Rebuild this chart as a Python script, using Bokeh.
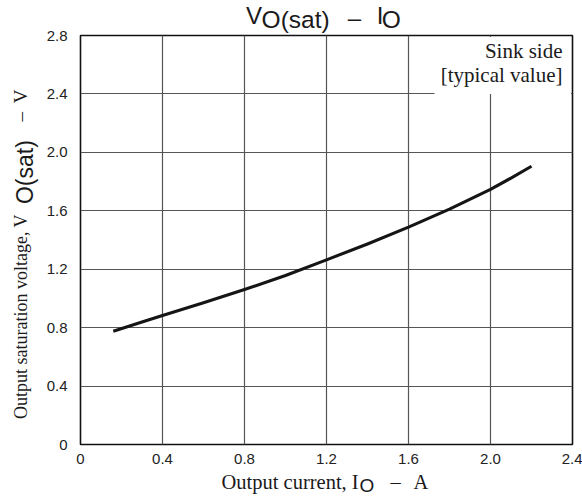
import math
from bokeh.plotting import figure
from bokeh.models import Label, Range1d, FixedTicker
from bokeh.layouts import column, row
from bokeh.embed import file_html
from bokeh.resources import INLINE

# ---- data ----
current = [0.16, 0.3, 0.4, 0.6, 0.8, 1.0, 1.2, 1.4, 1.6, 1.8, 2.0, 2.1, 2.2]
voltage = [0.775, 0.838, 0.883, 0.97, 1.061, 1.157, 1.264, 1.373, 1.488, 1.611, 1.746, 1.824, 1.905]

x_ticks = [0, 0.4, 0.8, 1.2, 1.6, 2.0, 2.4]
x_tick_labels = ["0", "0.4", "0.8", "1.2", "1.6", "2.0", "2.4"]
y_ticks = [0, 0.4, 0.8, 1.2, 1.6, 2.0, 2.4, 2.8]
y_tick_labels = ["0", "0.4", "0.8", "1.2", "1.6", "2.0", "2.4", "2.8"]

# ---- layout in page pixels ----
W, H = 582, 498
TOP_H = 34          # title strip height
XT_H = 28           # x-axis title strip height
YT_W = 40           # y-axis title strip width
YA_W = 34           # strip holding the y axis
MID_H = H - XT_H    # height of the upper block
MAIN_X = YT_W + YA_W
FL, FR, FT, FB = 80, 572, 35, 444      # frame of the chart (page px)
XMAX, YMAX = 2.4, 2.8
XS = (FR - FL) / XMAX
YS = (FB - FT) / YMAX

SANS = "Liberation Sans"
SERIF = "Liberation Serif"
INK = "#1a1a1a"


def hide_center(f):
    for r in list(f.center):
        r.visible = False


def text_strip(w, h):
    f = figure(width=w, height=h, output_backend="svg", toolbar_location=None,
               title=None, x_axis_location=None, y_axis_location=None,
               x_range=Range1d(0, w), y_range=Range1d(0, h),
               min_border_left=0, min_border_right=0,
               min_border_top=0, min_border_bottom=0)
    hide_center(f)
    f.outline_line_color = None
    f.background_fill_color = "white"
    f.border_fill_color = "white"
    return f


def put(fig, text, x, y, font, size, align="left", angle=0.0):
    fig.add_layout(Label(x=x, y=y, text=text, text_font=font,
                         text_font_size=size, text_align=align,
                         text_baseline="alphabetic", angle=angle,
                         text_color=INK))


def style_axis(ax):
    ax.axis_line_color = None
    ax.major_tick_line_color = None
    ax.minor_tick_line_color = None
    ax.major_label_text_font = SANS
    ax.major_label_text_font_size = "15px"
    ax.major_label_text_color = "#222222"


y_range = Range1d(0, YMAX)

# ---------- main chart ----------
p = figure(width=W - MAIN_X, height=MID_H - TOP_H, output_backend="svg",
           toolbar_location=None, title=None, y_axis_location=None,
           x_range=Range1d(0, XMAX), y_range=y_range,
           min_border_left=FL - MAIN_X, min_border_right=W - FR,
           min_border_top=FT - TOP_H, min_border_bottom=MID_H - FB)
p.background_fill_color = "white"
p.border_fill_color = "white"
p.outline_line_color = "#111111"
p.outline_line_width = 1.6

style_axis(p.xaxis[0])
p.xaxis.ticker = FixedTicker(ticks=x_ticks)
p.xaxis.major_label_overrides = {t: s for t, s in zip(x_ticks, x_tick_labels)}
p.xaxis.major_label_standoff = 3

p.xgrid.ticker = FixedTicker(ticks=x_ticks)
p.ygrid.ticker = FixedTicker(ticks=y_ticks)
for g in (p.xgrid[0], p.ygrid[0]):
    g.grid_line_color = "#555555"
    g.grid_line_width = 1.2


def dx(px):
    return (px - FL) / XS


def dy(py):
    return (FB - py) / YS


# white box behind the annotation in the top-right cell
p.quad(left=[dx(434)], right=[dx(FR - 1.5)], bottom=[dy(FT + 58.5)], top=[dy(FT + 1.5)],
       fill_color="white", line_color=None)

p.line(current, voltage, line_color="#151515", line_width=3.1, line_join="round")

put(p, "Sink side", dx(562), dy(50), SERIF, "21px", align="right")
put(p, "[typical value]", dx(562), dy(74.5), SERIF, "21px", align="right")

# ---------- y axis (own strip so the top label has room) ----------
ya = figure(width=YA_W, height=MID_H, output_backend="svg", toolbar_location=None,
            title=None, x_axis_location=None,
            x_range=Range1d(0, 1), y_range=y_range,
            min_border_left=YA_W - 1, min_border_right=0,
            min_border_top=FT, min_border_bottom=MID_H - FB)
hide_center(ya)
ya.outline_line_color = None
ya.background_fill_color = "white"
ya.border_fill_color = "white"
style_axis(ya.yaxis[0])
ya.yaxis.ticker = FixedTicker(ticks=y_ticks)
ya.yaxis.major_label_overrides = {t: s for t, s in zip(y_ticks, y_tick_labels)}
ya.yaxis.major_label_standoff = 0

# ---------- title strip:  V_O(sat) - I_O ----------
t = text_strip(W - MAIN_X, TOP_H)
tx = lambda px: px - MAIN_X
ty = lambda py: TOP_H - py
put(t, "V", tx(245), ty(14.5), SANS, "24px")
put(t, "O(sat)", tx(261), ty(19), SANS, "24.5px")
put(t, "–", tx(350), ty(17), SANS, "24px")
put(t, "I", tx(380), ty(14.5), SANS, "24px")
put(t, "O", tx(385), ty(19), SANS, "24.5px")

# ---------- x-axis title strip ----------
xt = text_strip(W, XT_H)
xy = lambda py: H - py
put(xt, "Output current, I", 221, xy(481), SERIF, "20.5px")
put(xt, "O", 359, xy(485), SANS, "19px")
put(xt, "–", 390, xy(481), SERIF, "20.5px")
put(xt, "A", 413, xy(481), SERIF, "20.5px")

# ---------- y-axis title strip (rotated) ----------
yt = text_strip(YT_W, MID_H)
yy = lambda py: MID_H - py
R = math.pi / 2
put(yt, "Output saturation voltage, V", 20, yy(323), SERIF, "18px", align="center", angle=R)
put(yt, "O(sat)", 24, yy(157), SANS, "23px", align="center", angle=R)
put(yt, "–", 20, yy(93.5), SERIF, "19px", align="center", angle=R)
put(yt, "V", 20, yy(70), SERIF, "19px", align="center", angle=R)

layout = column(row(yt, ya, column(t, p, spacing=0), spacing=0), xt, spacing=0)

open("out.html", "w").write(file_html(layout, INLINE))
